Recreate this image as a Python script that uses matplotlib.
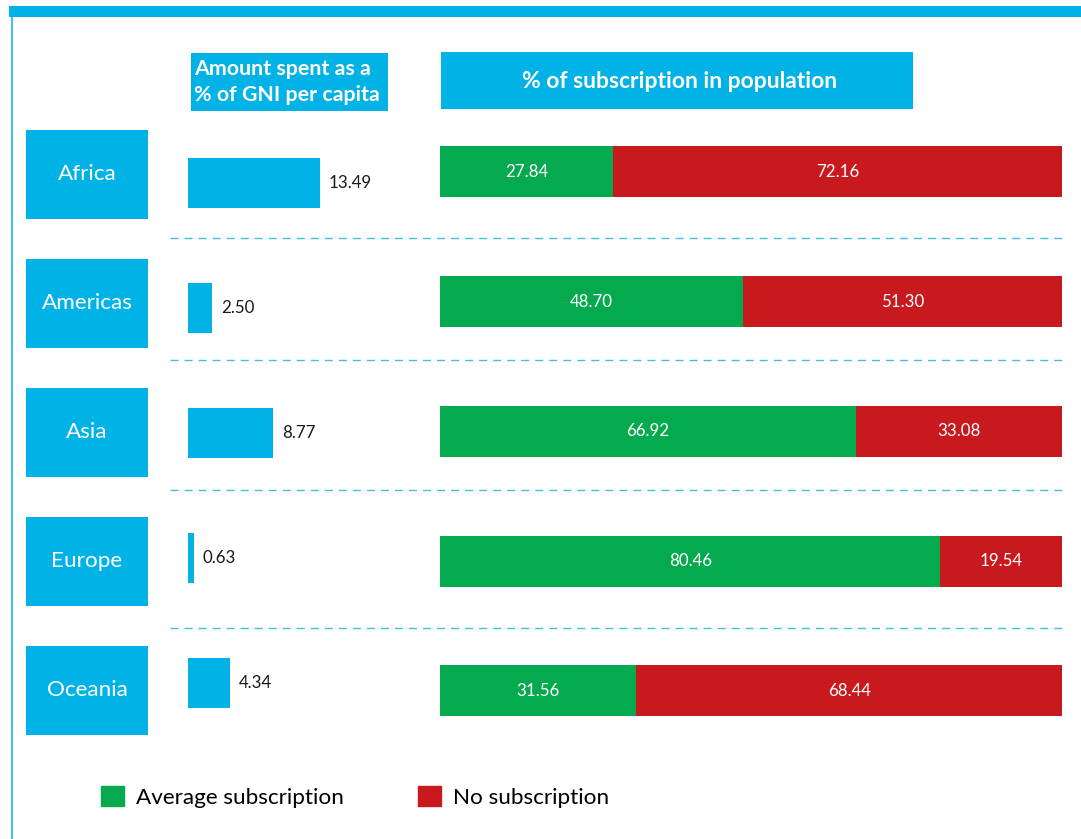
import matplotlib.pyplot as plt
from matplotlib.patches import Rectangle, Patch

# data
regions = ['Africa', 'Americas', 'Asia', 'Europe', 'Oceania']
gni_share = [13.49, 2.50, 8.77, 0.63, 4.34]      # amount spent as % of GNI per capita
avg_sub = [27.84, 48.70, 66.92, 80.46, 31.56]    # average subscription (%)
no_sub = [72.16, 51.30, 33.08, 19.54, 68.44]     # no subscription (%)

W, H = 1081, 839
BLUE = '#00b2e6'
GREEN = '#05aa4e'
RED = '#c8191e'

plt.rcParams['font.family'] = ['Lato', 'DejaVu Sans']
plt.rcParams['lines.scale_dashes'] = False

fig = plt.figure(figsize=(W / 100, H / 100), dpi=100)


def px_axes(x0, y0, x1, y1):
    # box given in pixels from the top-left corner
    ax = fig.add_axes([x0 / W, 1 - y1 / H, (x1 - x0) / W, (y1 - y0) / H])
    ax.set_axis_off()
    return ax


# background / decorations in pixel space
bg = px_axes(0, 0, W, H)
bg.set_xlim(0, W)
bg.set_ylim(H, 0)
bg.add_patch(Rectangle((9, 6), W - 9, 11, color=BLUE, lw=0))
bg.plot([11.5, 11.5], [17, H], color=BLUE, lw=1.1)
bg.add_patch(Rectangle((191, 53), 197, 58, color=BLUE, lw=0))
bg.text(194, 82, 'Amount spent as a\n% of GNI per capita', color='white',
        fontsize=15.4, fontweight='bold', ha='left', va='center', linespacing=1.4)
bg.add_patch(Rectangle((441, 52), 472, 57, color=BLUE, lw=0))
bg.text(680, 81, '% of subscription in population', color='white',
        fontsize=16.5, fontweight='bold', ha='center', va='center')
bg.hlines([238, 360, 490, 628], 170, 1062, colors='#45bde8', lw=1.0,
          linestyles=(0, (5.8, 4.3)))

rows = range(len(regions))

# region name boxes
ax_reg = px_axes(26, 109.5, 148, 755)
ax_reg.set_xlim(0, 1)
ax_reg.set_ylim(4.5, -0.5)
ax_reg.barh(rows, 1, height=0.69, color=BLUE)
for i, name in enumerate(regions):
    ax_reg.text(0.5, i, name, color='white', fontsize=16.2, ha='center', va='center')

# GNI share bars
ax_gni = px_axes(187.5, 120.8, 383.5, 745)
ax_gni.set_xlim(0, 20)
ax_gni.set_ylim(4.5, -0.5)
ax_gni.barh(rows, gni_share, height=0.40, color=BLUE)
for i, v in enumerate(gni_share):
    ax_gni.annotate(f'{v:.2f}', (v, i), xytext=(6.5, 0), textcoords='offset points',
                    fontsize=12.2, color='#1a1a1a', ha='left', va='center')

# subscription stacked bars
ax_sub = px_axes(440, 107, 1062, 755.8)
ax_sub.set_xlim(0, 100)
ax_sub.set_ylim(4.5, -0.5)
ax_sub.barh(rows, avg_sub, height=0.393, color=GREEN, label='Average subscription')
ax_sub.barh(rows, no_sub, left=avg_sub, height=0.393, color=RED, label='No subscription')
for i in rows:
    ax_sub.text(avg_sub[i] / 2, i, f'{avg_sub[i]:.2f}', color='white',
                fontsize=12.2, ha='center', va='center')
    ax_sub.text(avg_sub[i] + no_sub[i] / 2, i, f'{no_sub[i]:.2f}', color='white',
                fontsize=12.2, ha='center', va='center')

handles = [Patch(color=GREEN, label='Average subscription'),
           Patch(color=RED, label='No subscription')]
fig.legend(handles=handles, loc='center left', bbox_to_anchor=(101 / W, 1 - 797 / H),
           ncol=2, frameon=False, fontsize=16.2, handlelength=1.0, handleheight=1.0,
           handletextpad=0.55, columnspacing=3.3, borderpad=0, borderaxespad=0)

fig.savefig('out.png', dpi=100)
